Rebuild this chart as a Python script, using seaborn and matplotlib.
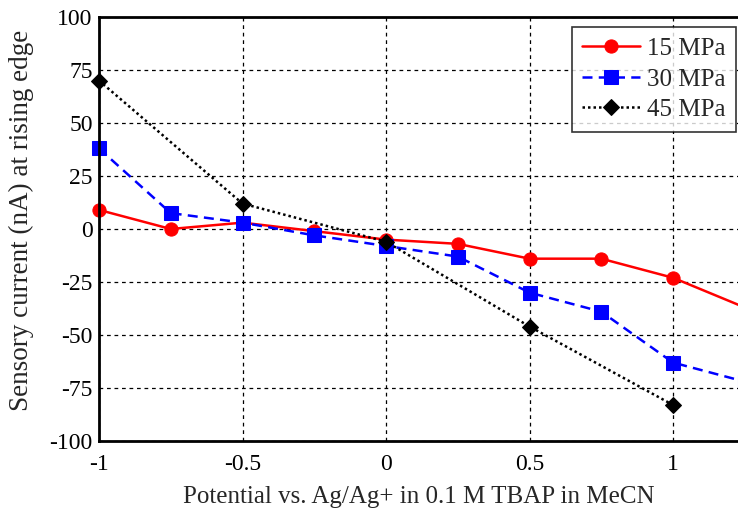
import pandas as pd
import matplotlib
matplotlib.use("Agg")
import matplotlib.pyplot as plt
import seaborn as sns

# Data -------------------------------------
potential_15 = [-1, -0.75, -0.5, -0.25, 0, 0.25, 0.5, 0.75, 1, 1.25]
current_15 = [9, 0, 3, -1, -5, -7, -14, -14, -23, -37]

potential_30 = [-1, -0.75, -0.5, -0.25, 0, 0.25, 0.5, 0.75, 1, 1.25]
current_30 = [38, 7.5, 3, -3, -8, -13, -30, -39, -63, -72]

potential_45 = [-1, -0.5, 0, 0.5, 1]
current_45 = [70, 12, -6, -46, -83]

x_ticks = [-1, -0.5, 0, 0.5, 1, 1.5]
x_tick_labels = ["-1", "-0.5", "0", "0.5", "1", ""]
y_ticks = [-100, -75, -50, -25, 0, 25, 50, 75, 100]

sns.set_style("white")
plt.rcParams["font.family"] = ["Liberation Serif", "DejaVu Serif"]
plt.rcParams["axes.unicode_minus"] = False

fig = plt.figure(figsize=(7.38, 5.08), dpi=100)
# axes runs past the right edge, like the cropped original
ax = fig.add_axes([99 / 738, 1 - 441 / 508, 717.5 / 738, 424 / 508])

series = [
    ("15 MPa", potential_15, current_15, "#ff0000", "-", "o", 9.5),
    ("30 MPa", potential_30, current_30, "#0000ff", (0, (4, 2.5)), "s", 9.5),
    ("45 MPa", potential_45, current_45, "black", (0, (1, 1.2)), "D", 8),
]
for label, xs, ys, color, ls, marker, ms in series:
    df = pd.DataFrame({"x": xs, "y": ys})
    sns.lineplot(data=df, x="x", y="y", ax=ax, color=color, linestyle=ls,
                 linewidth=1.8, marker=marker, markersize=ms,
                 markeredgecolor=color, markerfacecolor=color, label=label,
                 clip_on=False, zorder=3)

ax.set_xlim(-1, 1.5)
ax.set_ylim(-100, 100)
ax.set_xticks(x_ticks)
ax.set_xticklabels(x_tick_labels)
ax.set_yticks(y_ticks)
ax.grid(True, color="black", linestyle=(0, (3, 3)), linewidth=0.9)
ax.set_axisbelow(True)

for side in ["left", "bottom", "top"]:
    ax.spines[side].set_color("black")
    ax.spines[side].set_linewidth(2)
    ax.spines[side].set_zorder(4)
ax.spines["right"].set_visible(False)
ax.tick_params(direction="in", length=5, width=1.2, labelsize=17,
               colors="black")
ax.tick_params(axis="x", pad=9)
ax.tick_params(axis="y", pad=4.5)

ax.set_xlabel("Potential vs. Ag/Ag+ in 0.1 M TBAP in MeCN", fontsize=18)
ax.set_ylabel("Sensory current (nA) at rising edge", fontsize=19.5)
ax.xaxis.set_label_coords(0.445, -0.107)
ax.yaxis.set_label_coords(-0.091, 0.521)

leg = ax.legend(loc="upper right", bbox_to_anchor=(736 / 738, 1 - 27 / 508),
                bbox_transform=fig.transFigure, borderaxespad=0,
                fontsize=18, frameon=True, fancybox=False, handlelength=2.3,
                handletextpad=0.3, labelspacing=0.32, borderpad=0.42)
leg.get_frame().set_edgecolor("black")
leg.get_frame().set_linewidth(1.2)
leg.set_zorder(5)

fig.savefig("out.png", dpi=100)
